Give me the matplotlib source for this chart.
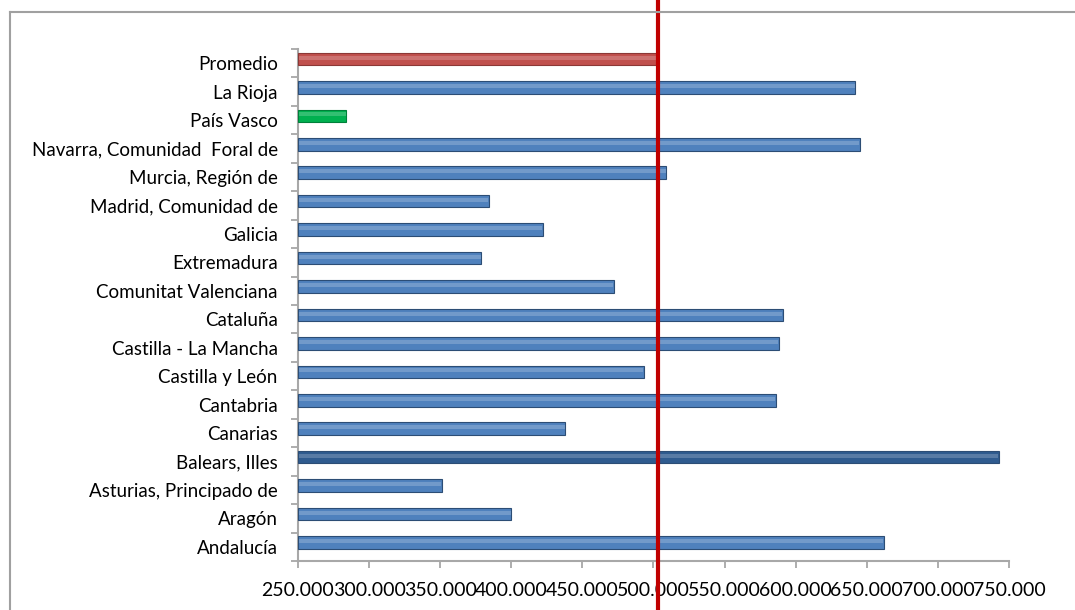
import numpy as np
import matplotlib
matplotlib.use("Agg")
import matplotlib.pyplot as plt
from matplotlib.ticker import FuncFormatter
from matplotlib.lines import Line2D

# data (bottom to top, as drawn)
regions = ["Andalucía", "Aragón", "Asturias, Principado de", "Balears, Illes",
           "Canarias", "Cantabria", "Castilla y León", "Castilla - La Mancha",
           "Cataluña", "Comunitat Valenciana", "Extremadura", "Galicia",
           "Madrid, Comunidad de", "Murcia, Región de",
           "Navarra, Comunidad  Foral de", "País Vasco", "La Rioja", "Promedio"]
values = [662000, 400000, 351000, 743000, 438000, 586000, 493000, 588000,
          591000, 472000, 379000, 422000, 384000, 509000, 645000, 284000,
          642000, 503000]
highlight = {"Balears, Illes": "#2f5b8f", "País Vasco": "#00b050",
             "Promedio": "#c0504d"}
x_ticks = np.arange(250000, 750001, 50000)
promedio = values[-1]

plt.rcParams['font.family'] = ['Lato', 'DejaVu Sans']

fig = plt.figure(figsize=(10.75, 6.1), dpi=100)
ax = fig.add_axes([298 / 1075, 49 / 610, 711 / 1075, 512 / 610])

xmin = x_ticks[0]
ypos = np.arange(len(regions))
off = 0.15  # 3d depth shift of the bars
for y, name, v in zip(ypos, regions, values):
    c = highlight.get(name, "#4f81bd")
    edge = {"#00b050": "#00803a", "#c0504d": "#8c3836"}.get(c, "#2c4d75")
    ax.barh(y + off, v - xmin, left=xmin, height=0.44, color=c,
            edgecolor=edge, linewidth=0.8, zorder=3)
    # cylinder-like highlight
    ax.barh(y + off + 0.05, v - xmin - 800, left=xmin + 400, height=0.14,
            color="white", alpha=0.2, linewidth=0, zorder=4)

ax.axvline(promedio, ymin=-0.1, ymax=1.1, color="#c00000", lw=3,
           clip_on=False, zorder=6)

ax.set_xlim(xmin, x_ticks[-1])
ax.set_ylim(-0.5, len(regions) - 0.5)
ax.set_xticks(x_ticks)
ax.xaxis.set_major_formatter(FuncFormatter(lambda x, p: f"{x:,.0f}".replace(",", ".")))
ax.set_yticks(np.arange(-0.5, len(regions), 1))
ax.set_yticklabels([])
ax.set_yticks(ypos, minor=True)
ax.set_yticklabels(regions, minor=True)

ax.tick_params(axis="y", which="major", length=5, color="#a0a0a0", width=1.2)
ax.tick_params(axis="y", which="minor", length=0, pad=14.5, labelsize=13.5)
ax.tick_params(axis="x", length=5, color="#a0a0a0", width=1.2, pad=10, labelsize=14)

for s in ["top", "right"]:
    ax.spines[s].set_visible(False)
for s in ["left", "bottom"]:
    ax.spines[s].set_color("#a8a8a8")
    ax.spines[s].set_linewidth(1.5)

# chart border
fig.add_artist(Line2D([10 / 1075, 1.0], [1 - 12 / 610] * 2, color="#a0a0a0", lw=1.5))
fig.add_artist(Line2D([10 / 1075] * 2, [0, 1 - 12 / 610], color="#a0a0a0", lw=1.5))

fig.savefig("out.png", dpi=100)
